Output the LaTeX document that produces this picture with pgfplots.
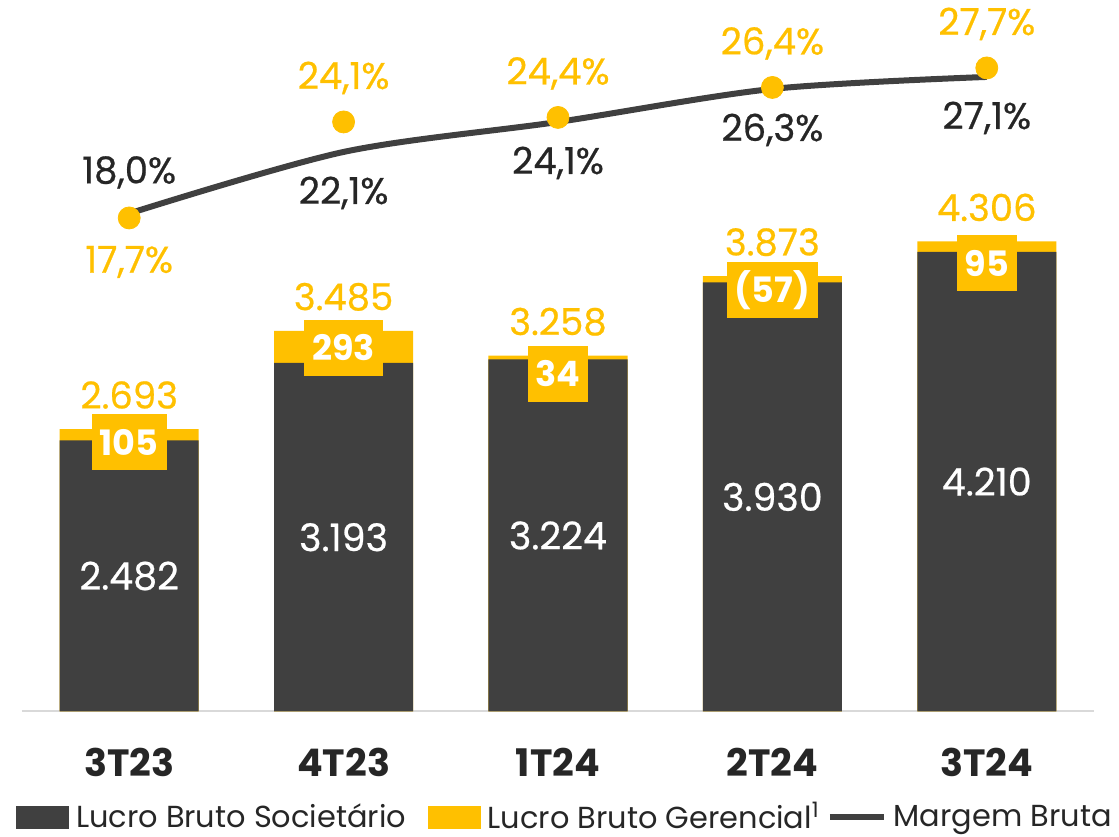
\documentclass[border=0pt]{standalone}
\usepackage{fontspec}
\setmainfont{Poppins}
\newfontfamily\lblfont[FakeBold=0.6]{Poppins}
\usepackage{pgfplots}
\pgfplotsset{compat=1.18}
\definecolor{barDark}{HTML}{404040}
\definecolor{barGold}{HTML}{FFC000}
\definecolor{txtDark}{HTML}{262626}
\definecolor{axGray}{HTML}{D9D9D9}

\begin{document}
\begin{tikzpicture}
\pgfplotsset{base/.style={width=536pt, height=355.75pt, scale only axis,
  xmin=-0.5, xmax=4.5, clip=false}}
\begin{axis}[base, ymin=0, ymax=6516,
  axis y line=none, axis x line*=bottom,
  x axis line style={draw=axGray, line width=1pt, -},
  xtick={0,1,2,3,4}, xticklabels={3T23,4T23,1T24,2T24,3T24},
  major tick length=0pt,
  xticklabel style={anchor=base, yshift=-32.75pt, text=txtDark,
    font=\fontsize{19}{19}\selectfont\bfseries},
  legend columns=3,
  legend style={draw=none, fill=none, at={(0.5,-0.151)}, anchor=center,
    xshift=3pt, yshift=1pt, font=\fontsize{15.2}{16}\selectfont, text=txtDark,
    inner sep=0pt, nodes={inner sep=0pt},
    /tikz/column 1/.style={column sep=3.5pt},
    /tikz/column 2/.style={column sep=11pt},
    /tikz/column 3/.style={column sep=3.5pt},
    /tikz/column 4/.style={column sep=3.5pt},
    /tikz/column 5/.style={column sep=3.5pt}},
  legend cell align=left]
% gold part (absolute adjustment) under the dark bar
\addplot[ybar, bar width=69.5pt, bar shift=0pt, fill=barGold, draw=none, forget plot]
  coordinates {(0,2587) (1,3486) (2,3258) (3,3987) (4,4305)};
\addplot[ybar, bar width=69.5pt, bar shift=0pt, fill=barDark, draw=none, forget plot]
  coordinates {(0,2482) (1,3193) (2,3224) (3,3930) (4,4210)};
% labels inside dark bars
\addplot[draw=none, mark=none, forget plot, nodes near coords, point meta=explicit symbolic,
  every node near coord/.style={anchor=center, text=white, font=\fontsize{19}{19}\lblfont}]
  coordinates {(0,1241)[2.482] (1,1596)[3.193] (2,1612)[3.224] (3,1965)[3.930] (4,2105)[4.210]};
% totals
\addplot[draw=none, mark=none, forget plot, nodes near coords, point meta=explicit symbolic,
  every node near coord/.style={anchor=center, yshift=17pt, text=barGold, font=\fontsize{18.5}{19}\lblfont}]
  coordinates {(0,2587)[2.693] (1,3486)[3.485] (2,3258)[3.258] (3,3987)[3.873] (4,4305)[4.306]};
% adjustment boxes
\addplot[draw=none, mark=none, forget plot, nodes near coords, point meta=explicit symbolic,
  every node near coord/.style={anchor=center, fill=barGold, text=white, inner xsep=4pt,
    minimum height=28pt, font=\fontsize{17.5}{18}\selectfont\bfseries}]
  coordinates {(0,2468)[105] (1,3329)[293] (2,3091)[34] (3,3860)[{(57)}] (4,4107)[95]};
\addlegendimage{legend image code/.code={\fill[barDark] (0pt,-5.5pt) rectangle (26pt,5.5pt);}}
\addlegendentry{Lucro Bruto Societário}
\addlegendimage{legend image code/.code={\fill[barGold] (0pt,-5.5pt) rectangle (26pt,5.5pt);}}
\addlegendentry{Lucro Bruto Gerencial\textsuperscript{1}}
\addlegendimage{legend image code/.code={\draw[barDark, line width=3pt] (0pt,0pt) -- (27pt,0pt);}}
\addlegendentry{Margem Bruta}
\end{axis}

\begin{axis}[base, ymin=-15.2, ymax=32.23, hide axis]
\addplot[barDark, line width=3pt, smooth, mark=none]
  coordinates {(0,18.0) (1,22.1) (2,24.1) (3,26.3) (4,27.1)};
\addplot[barGold, only marks, mark=*, mark size=5.5pt, mark options={fill=barGold, draw=barGold}]
  coordinates {(0,17.7) (1,24.1) (2,24.4) (3,26.4) (4,27.7)};
% margin labels
\addplot[draw=none, mark=none, nodes near coords, point meta=explicit symbolic,
  every node near coord/.style={anchor=center, yshift=20.5pt, text=txtDark, font=\fontsize{18.5}{19}\lblfont}]
  coordinates {(0,18.0)[18,0\%]};
\addplot[draw=none, mark=none, nodes near coords, point meta=explicit symbolic,
  every node near coord/.style={anchor=center, yshift=-20.5pt, text=txtDark, font=\fontsize{18.5}{19}\lblfont}]
  coordinates {(1,22.1)[22,1\%] (2,24.1)[24,1\%] (3,26.3)[26,3\%] (4,27.1)[27,1\%]};
\addplot[draw=none, mark=none, nodes near coords, point meta=explicit symbolic,
  every node near coord/.style={anchor=center, yshift=22pt, text=barGold, font=\fontsize{18.5}{19}\lblfont}]
  coordinates {(1,24.1)[24,1\%] (2,24.4)[24,4\%] (3,26.4)[26,4\%] (4,27.7)[27,7\%]};
\addplot[draw=none, mark=none, nodes near coords, point meta=explicit symbolic,
  every node near coord/.style={anchor=center, yshift=-22pt, text=barGold, font=\fontsize{18.5}{19}\lblfont}]
  coordinates {(0,17.7)[17,7\%]};
\end{axis}
\pgfresetboundingbox
\path[use as bounding box] ([xshift=-11pt,yshift=-62.75pt]current axis.south west)
  rectangle ([xshift=12.5pt]current axis.north east);
\end{tikzpicture}
\end{document}
